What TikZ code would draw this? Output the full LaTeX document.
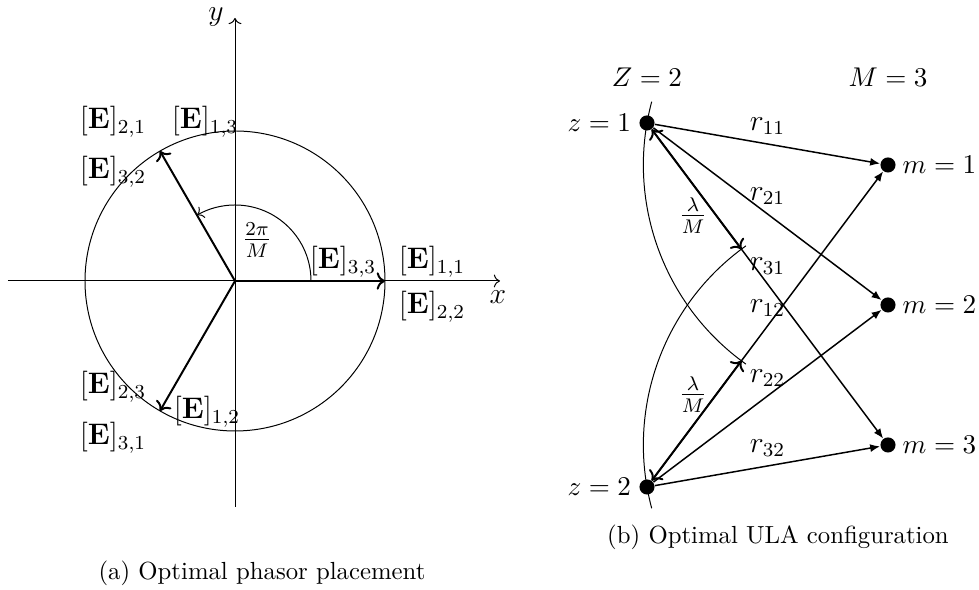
\documentclass[tikz,border=0pt]{standalone}
\usetikzlibrary{arrows.meta,calc,positioning}
\begin{document}
\begin{tikzpicture}[x=0.404pt,y=0.404pt,
  lbl/.style={inner sep=1pt,font=\large},
  zl/.style={inner sep=1pt,font=\fontsize{11}{13}\selectfont},
  dot/.style={circle,fill=black,inner sep=0pt,minimum size=6.1pt},
  ray/.style={semithick,-{Latex[length=4pt,width=3.2pt]}},
  rl/.style={above,font=\large},
  lam/.style={thick,<->},
  phasor/.style={thick,->}]
\useasboundingbox (0,0) rectangle (979,590);
% ---------- left ----------
\coordinate (O) at (235,309);
\coordinate (xl) at (8,309);
\coordinate (xr) at (500,309);
\coordinate (yb) at (235,83);
\coordinate (yt) at (235,572);
\draw[->] (xl) -- (xr);
\draw[->] (yb) -- (yt);
\node[lbl] (xlab) at (498,293) {$x$};
\node[lbl] (ylab) at (216,573) {$y$};
\draw (O) circle (150);
\coordinate (p1) at ($(O)+(0:150)$);
\coordinate (p2) at ($(O)+(120:150)$);
\coordinate (p3) at ($(O)+(240:150)$);
\draw[phasor] (O) -- (p1);
\draw[phasor] (O) -- (p2);
\draw[phasor] (O) -- (p3);
\coordinate (a0) at ($(O)+(0:76)$);
\draw[->] (a0) arc[start angle=0,end angle=120,radius=76];
\node[lbl] (ang) at (257,350) {$\frac{2\pi}{M}$};
\node[lbl] (e11) at (432,328) {$[\mathbf{E}]_{1,1}$};
\node[lbl] (e22) at (432,283) {$[\mathbf{E}]_{2,2}$};
\node[lbl] (e33) at (343,328) {$[\mathbf{E}]_{3,3}$};
\node[lbl] (e21) at (113,468) {$[\mathbf{E}]_{2,1}$};
\node[lbl] (e13) at (205,468) {$[\mathbf{E}]_{1,3}$};
\node[lbl] (e32) at (113,418) {$[\mathbf{E}]_{3,2}$};
\node[lbl] (e23) at (113,203) {$[\mathbf{E}]_{2,3}$};
\node[lbl] (e12) at (207,178) {$[\mathbf{E}]_{1,2}$};
\node[lbl] (e31) at (113,152) {$[\mathbf{E}]_{3,1}$};
\node (capa) at (262,17) {(a) Optimal phasor placement};
% ---------- right ----------
\node[dot] (z1) at (647,467) {};
\node[dot] (z2) at (647,103) {};
\node[dot] (m1) at (888,425) {};
\node[dot] (m2) at (888,285) {};
\node[dot] (m3) at (888,145) {};
\node[left=2pt of z1, zl] (z1l) {$z = 1$};
\node[left=2pt of z2, zl] (z2l) {$z = 2$};
\node[right=1.5pt of m1, zl] (m1l) {$m = 1$};
\node[right=1.5pt of m2, zl] (m2l) {$m = 2$};
\node[right=1.5pt of m3, zl] (m3l) {$m = 3$};
\node[zl] (Zl) at (647,513) {$Z = 2$};
\node[zl] (Ml) at (888,513) {$M = 3$};
\draw ($(m1)+(165:244.63)$) arc[start angle=165,end angle=234.5,radius=244.63];
\draw ($(m3)+(195:244.63)$) arc[start angle=195,end angle=125.5,radius=244.63];
\draw[ray] (z1) -- node[rl] {$r_{11}$} (m1);
\draw[ray] (z1) -- node[rl] {$r_{21}$} (m2);
\draw[ray] (z1) -- node[rl] {$r_{31}$} (m3);
\draw[ray] (z2) -- node[rl] {$r_{12}$} (m1);
\draw[ray] (z2) -- node[rl] {$r_{22}$} (m2);
\draw[ray] (z2) -- node[rl] {$r_{32}$} (m3);
\coordinate (t1) at ($(z1)!0.3918!(m3)$);
\coordinate (t2) at ($(z2)!0.3918!(m1)$);
\draw[lam] (z1) -- node[pos=0.72,left,font=\large] {$\frac{\lambda}{M}$} (t1);
\draw[lam] (z2) -- node[pos=0.72,left,font=\large] {$\frac{\lambda}{M}$} (t2);
\node (capb) at (778,53) {(b) Optimal ULA configuration};
\end{tikzpicture}
\end{document}
